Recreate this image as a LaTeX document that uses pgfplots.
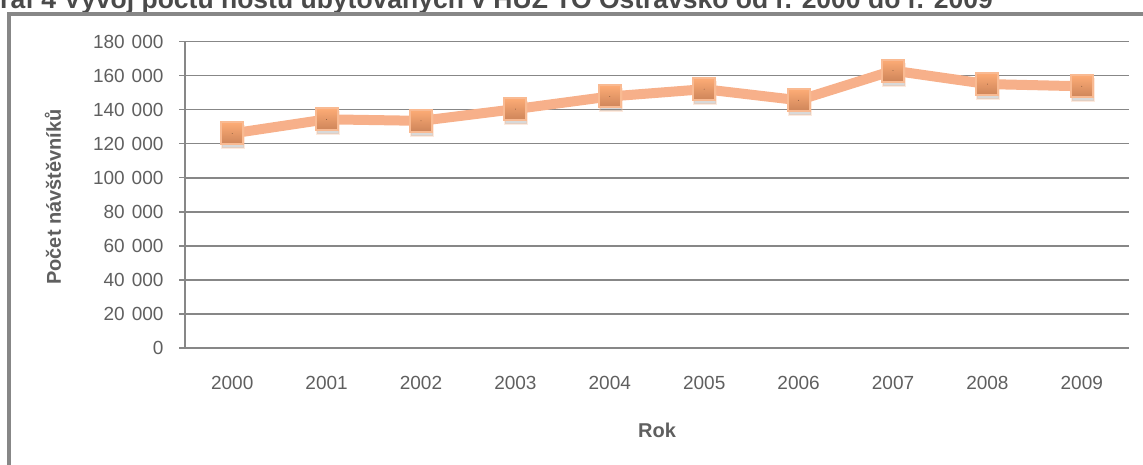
\documentclass[border=0pt]{standalone}
\usepackage{fontspec}
\setmainfont{Liberation Sans}
\usepackage{pgfplots}
\pgfplotsset{compat=1.18}
\usetikzlibrary{shadows}
\definecolor{gridgray}{HTML}{878787}
\definecolor{txtgray}{HTML}{5F5F5F}
\definecolor{titlegray}{HTML}{4A4A4A}
\definecolor{linecol}{HTML}{F7B08A}
\definecolor{mktop}{HTML}{FDAC76}
\definecolor{mkbot}{HTML}{CD8459}
\definecolor{mkborder}{HTML}{F9BA92}
\pgfplotstableread{
x y
0 126000
1 134300
2 133400
3 140300
4 147700
5 152000
6 145500
7 162900
8 155000
9 153700
}\visitors
\begin{document}
\begin{tikzpicture}[x=1pt,y=1pt]
\node[anchor=base west, font=\bfseries\fontsize{26.5}{30}\selectfont, text=titlegray, inner sep=0] at (-20.6,-9) {Graf 4 Vývoj počtu hostů ubytovaných v HUZ TO Ostravsko od r. 2000 do r. 2009};
\draw[gridgray, line width=3.5pt] (9,-470) -- (9,-14) -- (1150,-14);
\begin{axis}[
  at={(185pt,-348pt)}, anchor=south west,
  width=944pt, height=306.5pt, scale only axis,
  xmin=-0.5, xmax=9.5, ymin=0, ymax=180000,
  separate axis lines,
  axis x line*=bottom, axis y line*=left,
  axis line style={-, gridgray, line width=1.5pt},
  ytick={0,20000,...,180000},
  xtick={0,...,9},
  xticklabels={2000,2001,2002,2003,2004,2005,2006,2007,2008,2009},
  ymajorgrids,
  grid style={gridgray, line width=1.6pt},
  tick align=outside, major tick length=6pt,
  y tick style={gridgray, line width=1.5pt},
  x tick style={draw=none},
  scaled y ticks=false,
  /pgf/number format/fixed,
  /pgf/number format/precision=0,
  /pgf/number format/1000 sep={\hspace{7pt}},
  /pgf/number format/assume math mode=true,
  tick label style={font=\fontsize{19}{22}\selectfont, text=txtgray},
  yticklabel style={xshift=-12pt},
  xticklabel style={yshift=-19pt},
  ylabel={Počet návštěvníků},
  ylabel style={at={(axis description cs:-0.1398,0.493)}, anchor=center, font=\bfseries\fontsize{20}{24}\selectfont, text=txtgray},
  xlabel={Rok},
  xlabel style={at={(axis description cs:0.5,-0.2675)}, anchor=center, font=\bfseries\fontsize{20}{24}\selectfont, text=txtgray},
  clip=false,
]
\addplot[linecol, line width=10pt, line join=round] table[x=x,y=y] {\visitors};
\addplot[only marks, scatter, point meta=explicit symbolic, mark=*, mark size=0.01pt, mark options={draw=none, fill=none},
  scatter/@pre marker code/.code={\node[draw=mkborder, line width=2pt, minimum size=22pt, inner sep=0pt, top color=mktop, bottom color=mkbot, drop shadow={shadow xshift=1pt, shadow yshift=-4pt, opacity=0.3}] {};},
  scatter/@post marker code/.code={}] table[x=x,y=y,meta=x] {\visitors};
\end{axis}
\pgfresetboundingbox
\useasboundingbox (0,0) rectangle (1143,-465);
\end{tikzpicture}
\end{document}
